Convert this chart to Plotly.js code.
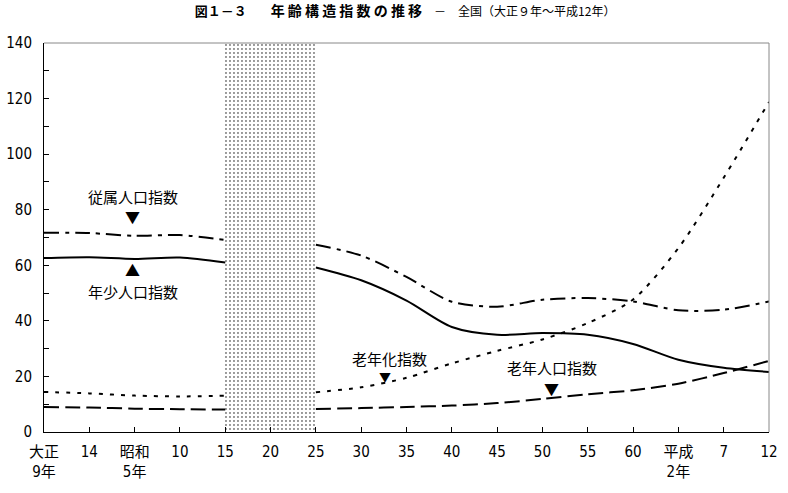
<!DOCTYPE html>
<html>
<head>
<meta charset="utf-8">
<script src="https://cdn.plot.ly/plotly-3.0.1.min.js"></script>
<style>html,body{margin:0;padding:0;background:#fff;}#chart{width:788px;height:493px;}</style>
</head>
<body>
<div id="chart"></div>
<script>
// Census years: 大正9年 (1920) ... 平成12年 (2000); 昭和20年 (1945) has no data
var categories = ["大正<br>9年","14","昭和<br>5年","10","15","20","25","30","35","40","45","50","55","60","平成<br>2年","7","12"];
var youthIndex      = [62.6,62.9,62.3,62.8,61.0,null,59.2,54.6,47.3,37.8,35.0,35.6,35.0,31.7,26.0,23.1,21.6];
var oldAgeIndex     = [9.0,8.8,8.4,8.2,8.1,null,8.3,8.6,9.0,9.5,10.4,11.9,13.6,15.0,17.4,21.2,25.6];
var dependencyIndex = [71.7,71.6,70.6,70.9,69.1,null,67.4,63.5,55.8,46.9,45.1,47.6,48.2,47.0,43.8,44.0,47.0];
var agingIndex      = [14.4,13.9,13.1,12.8,13.1,null,14.3,16.1,19.5,24.7,29.2,33.3,39.2,47.7,66.2,91.5,118.8];
var gapCategory = 5;      // 昭和20年 (no census)
var gapBandHeight = 140;

var xs = categories.map(function(_, i){ return i; });
var jp = '"Noto Sans CJK JP", sans-serif';
var numFont = '"DejaVu Sans Condensed", "Noto Sans CJK JP", sans-serif';

function line(y, dash) {
  return {
    type: 'scatter', mode: 'lines', x: xs, y: y, connectgaps: false,
    line: {color: '#000', width: 2, dash: dash, shape: 'spline', smoothing: 0.8},
    hoverinfo: 'skip'
  };
}

var traces = [
  {
    type: 'bar', x: [gapCategory], y: [gapBandHeight], width: [2.05], base: 0,
    marker: {color: '#fff', line: {width: 0},
      pattern: {shape: '.', size: 4, solidity: 0.1, fgcolor: '#000', bgcolor: '#fff', fillmode: 'replace'}},
    hoverinfo: 'skip'
  },
  line(dependencyIndex, '15px,6px,4px,6px'),
  line(youthIndex, 'solid'),
  line(oldAgeIndex, '15px,6px'),
  line(agingIndex, '4px,7px')
];

function ann(x, y, text, size) {
  return {x: x, y: y, xref: 'x', yref: 'y', text: text, showarrow: false,
    font: {family: jp, size: size, color: '#000'}, xanchor: 'center', yanchor: 'middle'};
}

var layout = {
  width: 788, height: 493,
  margin: {l: 44, r: 19, t: 43, b: 61},
  paper_bgcolor: '#fff', plot_bgcolor: '#fff',
  showlegend: false,
  title: {
    text: '<b><span style="font-size:13px">図１－３</span>　　<span style="font-size:14px">年 齢 構 造 指 数 の 推 移</span></b>　－　全国（大正９年～平成12年）',
    font: {family: jp, size: 12, color: '#000'},
    x: 0.514, xanchor: 'center', xref: 'container',
    y: 1 - 12/493, yanchor: 'middle', yref: 'container'
  },
  xaxis: {
    range: [0, 16], tickmode: 'array', tickvals: xs, ticktext: categories,
    ticks: 'inside', ticklen: 5, tickcolor: '#000', tickwidth: 1,
    showline: true, linecolor: '#000', linewidth: 1,
    showgrid: false, zeroline: false, fixedrange: true,
    tickfont: {family: numFont, size: 15, color: '#000'},
    ticklabelstandoff: 6
  },
  yaxis: {
    range: [0, 140], tick0: 0, dtick: 20,
    ticks: 'inside', ticklen: 5, tickcolor: '#000', tickwidth: 1,
    minor: {dtick: 10, ticks: 'inside', ticklen: 5, tickcolor: '#000', tickwidth: 1, showgrid: false},
    showline: true, linecolor: '#000', linewidth: 1,
    showgrid: false, zeroline: false, fixedrange: true,
    tickfont: {family: numFont, size: 15, color: '#000'},
    ticklabelstandoff: 8
  },
  shapes: [
    {type: 'line', xref: 'paper', yref: 'paper', x0: 0, x1: 1, y0: 1, y1: 1, line: {color: '#888', width: 1}},
    {type: 'line', xref: 'paper', yref: 'paper', x0: 1, x1: 1, y0: 0, y1: 1, line: {color: '#888', width: 1}}
  ],
  annotations: [
    ann(1.96, 84.6, '従属人口指数', 15),
    ann(1.96, 77.5, '▼', 15),
    ann(1.96, 58.4, '▲', 15),
    ann(1.96, 50.7, '年少人口指数', 15),
    ann(7.62, 26.3, '老年化指数', 15),
    ann(7.53, 19.8, '▼', 12),
    ann(11.21, 23.2, '老年人口指数', 15),
    ann(11.21, 15.7, '▼', 15)
  ]
};

Plotly.newPlot('chart', traces, layout, {staticPlot: true, displayModeBar: false});
</script>
</body>
</html>
